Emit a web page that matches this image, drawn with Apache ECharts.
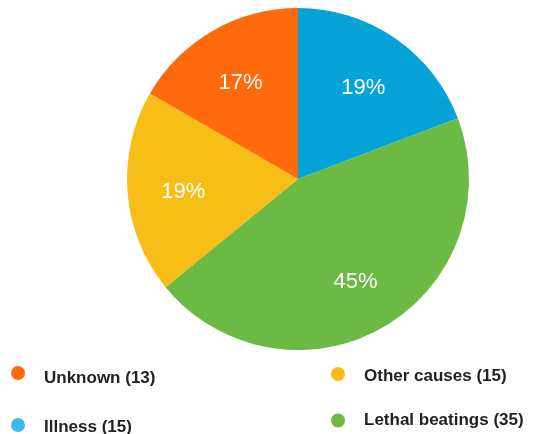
<!DOCTYPE html>
<html>
<head>
<meta charset="utf-8">
<script src="https://cdn.jsdelivr.net/npm/echarts@6/dist/echarts.min.js"></script>
<style>
  html, body { margin: 0; padding: 0; background: #fff; }
  #chart { width: 546px; height: 434px; }
</style>
</head>
<body>
<div id="chart"></div>
<script>
// Causes of death, in drawing order (clockwise from 12 o'clock)
const causes = ['Illness', 'Lethal beatings', 'Other causes', 'Unknown'];
const counts = [15, 35, 15, 13];
const sliceColors = ['#05A3D8', '#6CB944', '#F7BE17', '#FF6A0D'];
const legendColors = ['#3DBAEB', '#6CB944', '#F7BE17', '#FF6A0D'];

const chart = echarts.init(document.getElementById('chart'), null, { renderer: 'canvas' });

const pieData = causes.map((name, i) => ({
  name: name,
  value: counts[i],
  itemStyle: { color: sliceColors[i] }
}));

// One legend block per entry so the two columns can sit independently;
// drop = how far the text sits below the marker's centre line
const legendPos = {
  'Unknown': { left: 11, top: 366, drop: 5 },
  'Other causes': { left: 331, top: 367, drop: 2 },
  'Illness': { left: 11, top: 418, drop: 2 },
  'Lethal beatings': { left: 331, top: 412, drop: 0 }
};
const legends = Object.keys(legendPos).map((name) => ({
  left: legendPos[name].left,
  top: legendPos[name].top,
  orient: 'horizontal',
  icon: 'circle',
  itemWidth: 14,
  itemHeight: 14,
  itemGap: 0,
  padding: 0,
  selectedMode: false,
  formatter: (n) => '{t|' + n + ' (' + counts[causes.indexOf(n)] + ')}',
  textStyle: {
    rich: {
      t: {
        fontFamily: 'Liberation Sans, Arial, sans-serif',
        fontWeight: 'bold',
        fontSize: 17,
        color: '#222',
        padding: [legendPos[name].drop * 2, 0, 0, 14]
      }
    }
  },
  data: [{ name: name, itemStyle: { color: legendColors[causes.indexOf(name)] } }]
}));

chart.setOption({
  animation: false,
  backgroundColor: '#fff',
  legend: legends,
  series: [
    {
      type: 'pie',
      center: [298, 179],
      radius: [0, 171],
      startAngle: 90,
      clockwise: true,
      silent: true,
      label: { show: false },
      labelLine: { show: false },
      itemStyle: { borderWidth: 0 },
      data: pieData
    },
    {
      // transparent ring carrying the percentage labels further out
      type: 'pie',
      center: [298, 179],
      radius: [53, 171],
      startAngle: 90,
      clockwise: true,
      silent: true,
      legendHoverLink: false,
      label: {
        show: true,
        position: 'inside',
        offset: [0, 3.5],
        formatter: (p) => Math.round(p.percent) + '%',
        color: '#fff',
        fontFamily: 'Liberation Sans, Arial, sans-serif',
        fontSize: 22,
        fontWeight: 'normal'
      },
      labelLine: { show: false },
      itemStyle: { color: 'rgba(0,0,0,0)', borderWidth: 0 },
      data: causes.map((name, i) => ({ name: name, value: counts[i] }))
    }
  ]
});
</script>
</body>
</html>
